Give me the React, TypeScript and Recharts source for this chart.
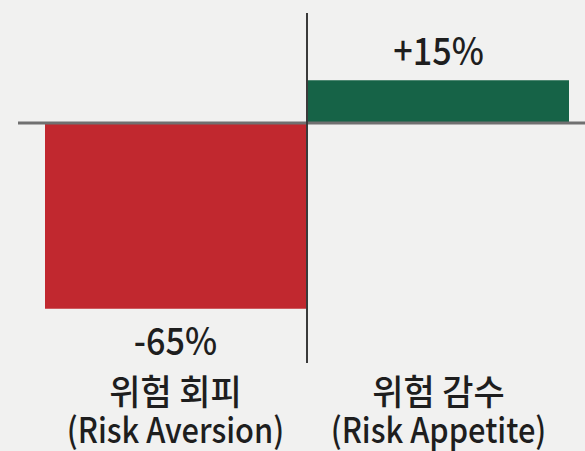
import React from "react";
import { BarChart, Bar, XAxis, YAxis, ReferenceLine, LabelList, Cell } from "recharts";

const categoriesKo = ["위험 회피", "위험 감수"];
const categoriesEn = ["(Risk Aversion)", "(Risk Appetite)"];
const values = [-65, 15];
const barColors = ["#c1282f", "#166347"];

const data = categoriesKo.map((ko, i) => ({
  name: ko,
  en: categoriesEn[i],
  value: values[i],
}));

const FONT = "'Noto Sans CJK KR', 'Noto Sans', sans-serif";

const CategoryTick = (props: any) => {
  const { x, y, payload, index } = props;
  const en = categoriesEn[index] ?? "";
  return (
    <g>
      <text
        transform={`translate(${x},${y + 42}) scale(0.97,1)`}
        textAnchor="middle"
        fontFamily={FONT}
        fontSize={35}
        fontWeight={500}
        fill="#1e1e1e"
      >
        {payload.value}
      </text>
      <text
        transform={`translate(${x},${y + 80}) scale(0.88,1)`}
        textAnchor="middle"
        fontFamily={FONT}
        fontSize={35}
        fontWeight={500}
        fill="#1e1e1e"
      >
        {en}
      </text>
    </g>
  );
};

const ValueLabel = (props: any) => {
  const { x, y, width, height, value } = props;
  const top = Math.min(y, y + height);
  const bottom = Math.max(y, y + height);
  const cx = x + width / 2;
  const text = value > 0 ? `+${value}%` : `${value}%`;
  const ty = value >= 0 ? top - 15 : bottom + 46;
  return (
    <text
      transform={`translate(${cx},${ty}) scale(0.9,1)`}
      textAnchor="middle"
      fontFamily={FONT}
      fontSize={38}
      fontWeight={500}
      fill="#1e1e1e"
    >
      {text}
    </text>
  );
};

export default function App() {
  return (
    <div style={{ position: "absolute", left: 0, top: 0, width: 585, height: 451, background: "#f1f1f0" }}>
      <BarChart
        width={585}
        height={451}
        data={data}
        margin={{ top: 13, right: 0, bottom: 0, left: 18 }}
        barCategoryGap={1}
      >
        <XAxis
          dataKey="name"
          axisLine={false}
          tickLine={false}
          tickSize={0}
          tickMargin={0}
          height={88}
          padding={{ left: 26, right: 15 }}
          tick={<CategoryTick />}
          interval={0}
        />
        <YAxis hide type="number" domain={[-84, 38.5]} allowDataOverflow />
        <Bar dataKey="value" isAnimationActive={false}>
          {data.map((d, i) => (
            <Cell key={d.name} fill={barColors[i]} />
          ))}
          <LabelList dataKey="value" content={<ValueLabel />} />
        </Bar>
        <ReferenceLine y={0} stroke="#707070" strokeWidth={3} />
        <ReferenceLine x={categoriesKo[1]} position="start" stroke="#3a3a3a" strokeWidth={2} />
      </BarChart>
    </div>
  );
}
